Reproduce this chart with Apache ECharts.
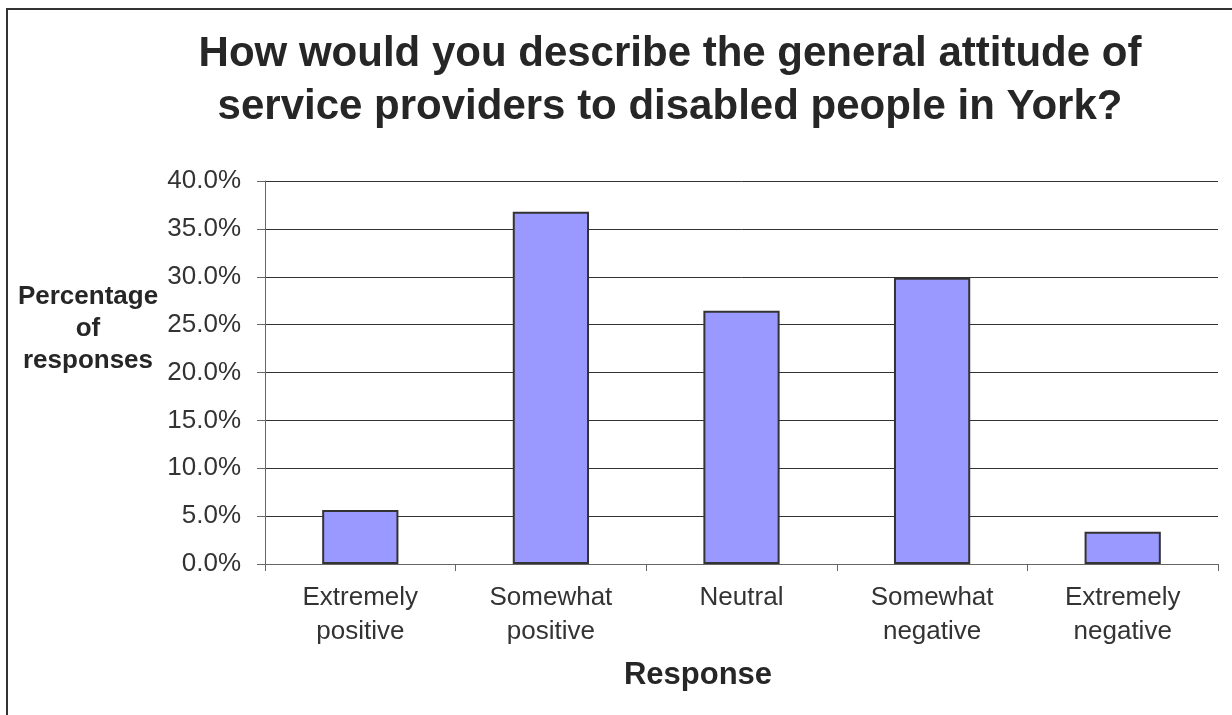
<!DOCTYPE html>
<html>
<head>
<meta charset="utf-8">
<script src="https://cdn.jsdelivr.net/npm/echarts@6/dist/echarts.min.js"></script>
<style>
	html, body { margin: 0; padding: 0; background: #fff; }
	#chart { width: 1232px; height: 715px; }
</style>
</head>
<body>
<div id="chart"></div>
<script>
// survey answers
var categories = ['Extremely\npositive', 'Somewhat\npositive', 'Neutral', 'Somewhat\nnegative', 'Extremely\nnegative'];
var shares = [0.0565, 0.368, 0.2645, 0.299, 0.0337];
var yTicks = { min: 0, max: 0.4, step: 0.05 };

var chart = echarts.init(document.getElementById('chart'));
var font = 'Liberation Sans, Arial, sans-serif';

chart.setOption({
	backgroundColor: '#fff',
	animation: false,
	title: {
		text: 'How would you describe the general attitude of\nservice providers to disabled people in York?',
		left: 665,
		top: 23,
		textAlign: 'center',
		textStyle: {
			fontFamily: font,
			fontSize: 42,
			fontWeight: 'bold',
			color: '#262626',
			lineHeight: 53
		}
	},
	graphic: [{
		type: 'rect',
		shape: { x: 7, y: 9, width: 1240, height: 720 },
		style: { fill: 'none', stroke: '#333', lineWidth: 2 },
		silent: true
	}, {
		type: 'text',
		x: 88,
		y: 281,
		style: {
			text: 'Percentage\nof\nresponses',
			align: 'center',
			verticalAlign: 'top',
			fontFamily: font,
			fontSize: 26,
			fontWeight: 'bold',
			fill: '#262626',
			lineHeight: 32
		}
	}, {
		// axis title sits left of the plot centre in the original
		type: 'text',
		x: 698,
		y: 660,
		style: {
			text: 'Response',
			align: 'center',
			verticalAlign: 'top',
			fontFamily: font,
			fontSize: 31,
			fontWeight: 'bold',
			fill: '#262626'
		}
	}],
	grid: {
		left: 265,
		right: 14,
		top: 181,
		bottom: 151
	},
	xAxis: {
		type: 'category',
		data: categories,
		axisLine: { lineStyle: { color: '#666', width: 1 } },
		axisTick: { show: true, length: 7, lineStyle: { color: '#666' } },
		axisLabel: {
			margin: 17,
			fontFamily: font,
			fontSize: 26,
			color: '#333',
			lineHeight: 34
		}
	},
	yAxis: {
		type: 'value',
		min: yTicks.min,
		max: yTicks.max,
		interval: yTicks.step,
		axisLine: { show: true, lineStyle: { color: '#666', width: 1 } },
		axisTick: { show: true, length: 8, lineStyle: { color: '#666' } },
		splitLine: { lineStyle: { color: '#333', width: 1 } },
		axisLabel: {
			margin: 24,
			fontFamily: font,
			fontSize: 26,
			color: '#333',
			formatter: function (v) { return (v * 100).toFixed(1) + '%'; }
		}
	},
	series: [{
		type: 'bar',
		data: shares,
		barCategoryGap: '60%',
		itemStyle: {
			color: '#9999FF',
			borderColor: '#333',
			borderWidth: 2
		}
	}]
});
</script>
</body>
</html>
